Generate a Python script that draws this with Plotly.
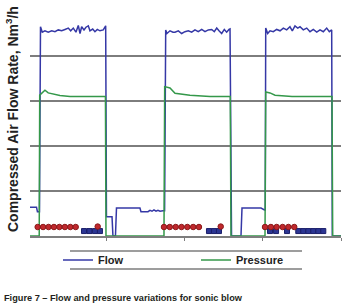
import plotly.graph_objects as go

# ---- data (time axis in arbitrary units, values in axis units) ----
flow_t = [2.6, 10.9, 12.1, 14.7, 16.0, 18.3, 21.7, 25.9, 30.3, 34.5, 38.7, 43.1, 47.3, 51.5, 54.6,
          57.9, 61.3, 64.3, 66.5, 68.6, 71.6, 74.1, 77.1, 79.2, 82.7, 85.6, 88.6, 92.0, 96.2, 99.3,
          100.3, 107.4, 108.6, 111.8, 113.1, 143.1, 144.4, 153.4, 155.9, 158.5, 161.0, 163.6, 166.1,
          168.7, 172.5, 174.6,
          176.0, 177.6, 181.5, 185.3, 187.9, 192.1, 196.4, 200.6, 204.9, 209.2, 213.4, 217.6, 222.0,
          226.2, 230.4, 234.8, 238.1, 241.2, 244.1, 247.5, 250.9, 253.9, 256.9, 258.2,
          260.1, 272.2, 273.5, 297.8, 302.2, 303.2,
          303.8, 306.3, 309.3, 313.5, 317.8, 322.1, 326.3, 330.6, 334.8, 337.8, 341.2, 344.7, 347.6,
          351.8, 356.2, 360.4, 364.6, 369.0, 373.2, 377.4, 381.7, 385.1, 388.1,
          388.9, 400.0]
flow_v = [0.64, 0.64, 0.54, 0.54, 4.65, 4.53, 4.56, 4.53, 4.56, 4.54, 4.58, 4.56, 4.59, 4.62, 4.56,
          4.62, 4.53, 4.68, 4.50, 4.65, 4.58, 4.64, 4.67, 4.56, 4.60, 4.54, 4.59, 4.56, 4.58, 4.67,
          0.43, 0.43, 0.0, 0.0, 0.62, 0.62, 0.54, 0.54, 0.57, 0.55, 0.58, 0.55, 0.57,
          0.55, 0.56, 0.56,
          4.58, 4.50, 4.56, 4.53, 4.53, 4.56, 4.50, 4.54, 4.56, 4.53, 4.58, 4.54, 4.59,
          4.54, 4.58, 4.59, 4.54, 4.62, 4.56, 4.50, 4.59, 4.53, 4.59, 4.60,
          0.0, 0.0, 0.62, 0.62, 0.58, 0.58,
          4.62, 4.50, 4.56, 4.54, 4.59, 4.56, 4.62, 4.58, 4.65, 4.56, 4.67, 4.62, 4.65,
          4.58, 4.62, 4.54, 4.59, 4.53, 4.58, 4.54, 4.62, 4.54, 4.58,
          0.0, 0.0]

pres_t = [2.6, 14.4, 15.0, 21.7, 25.9, 32.3, 40.9, 53.7, 70.3, 99.0, 99.7,
          173.8, 174.7, 181.5, 187.9, 207.0, 232.6, 258.5, 259.4,
          302.9, 303.8, 309.3, 315.7, 337.4, 388.5, 389.4, 400.0]
pres_v = [0.0, 0.0, 3.13, 3.24, 3.18, 3.15, 3.12, 3.10, 3.10, 3.10, 0.0,
          0.0, 3.32, 3.29, 3.17, 3.13, 3.10, 3.10, 0.0,
          0.0, 3.20, 3.18, 3.13, 3.10, 3.10, 0.0, 0.0]

red_t = [12.4, 19.3, 26.3, 33.2, 40.1, 47.2, 54.1, 61.0, 89.1,
         173.8, 181.2, 188.8, 196.2, 203.6, 211.1, 218.5, 246.3,
         302.9, 310.4, 317.8, 325.4, 332.8, 340.3]
red_v = [0.20] * 8 + [0.21] + [0.20] * 7 + [0.21] + [0.20] * 6

blue_t = [71.6, 78.6, 85.6, 92.0,
          231.3, 237.7, 244.1,
          309.3, 317.0, 331.0, 345.4, 351.8, 358.2, 364.6, 371.0, 377.4]
blue_v = [0.11] * len(blue_t)

x_ticks = [100, 200, 300, 400]

FLOW_C = "#3538A6"
PRES_C = "#34984A"
GRID_C = "#7d7d7d"

fig = go.Figure()
fig.add_trace(go.Scatter(x=flow_t, y=flow_v, mode="lines", name="Flow",
                         line=dict(color=FLOW_C, width=1.5)))
fig.add_trace(go.Scatter(x=pres_t, y=pres_v, mode="lines", name="Pressure",
                         line=dict(color=PRES_C, width=1.5)))
fig.add_trace(go.Scatter(x=blue_t, y=blue_v, mode="markers", showlegend=False,
                         marker=dict(symbol="square", size=5, color="#2B3592",
                                     line=dict(color="#1B1F6B", width=1))))
fig.add_trace(go.Scatter(x=red_t, y=red_v, mode="markers", showlegend=False,
                         marker=dict(symbol="circle", size=5.5, color="#C0282D",
                                     line=dict(color="#8B1A1A", width=1))))

L, R, T, B = 30, 9, 11, 69
W, H = 350, 305
pw, ph = W - L - R, H - T - B


def px_x(px):
    return (px - L) / pw


def px_y(py):
    return (H - B - py) / ph


fig.update_layout(
    width=W, height=H,
    margin=dict(l=L, r=R, t=T, b=B, pad=0),
    paper_bgcolor="white", plot_bgcolor="white",
    xaxis=dict(range=[2.6, 400], showgrid=False, zeroline=False, showline=True,
               linecolor=GRID_C, linewidth=1.5, ticks="outside", ticklen=3,
               tickcolor=GRID_C, tickwidth=1, tickvals=x_ticks, showticklabels=False),
    yaxis=dict(range=[0, 5], dtick=1, showgrid=True, gridcolor=GRID_C, gridwidth=1.5,
               zeroline=False, showline=False, showticklabels=False, ticks=""),
    showlegend=True,
    legend=dict(orientation="h", x=px_x(58), xanchor="left", y=px_y(260), yanchor="middle",
                entrywidth=93, entrywidthmode="pixels", bgcolor="rgba(0,0,0,0)",
                font=dict(family="Liberation Sans, Arial, sans-serif", size=11,
                          weight="bold", color="#222222")),
    font=dict(family="Liberation Sans, Arial, sans-serif"),
)

# legend frame lines (top and bottom only)
for py in (251, 269):
    fig.add_shape(type="line", xref="paper", yref="paper",
                  x0=px_x(70), x1=px_x(302), y0=px_y(py), y1=px_y(py),
                  line=dict(color=GRID_C, width=1.5))

fig.add_annotation(text="Compressed Air Flow Rate, Nm<sup>3</sup>/h", textangle=-90,
                   xref="paper", yref="paper", x=px_x(12), y=px_y(119),
                   xanchor="center", yanchor="middle", showarrow=False,
                   font=dict(family="Liberation Sans, Arial, sans-serif", size=14,
                             weight="bold", color="#222222"))

fig.add_annotation(text="Figure 7 \u2013 Flow and pressure variations for sonic blow",
                   xref="paper", yref="paper", x=px_x(2), y=px_y(297.5),
                   xanchor="left", yanchor="middle", showarrow=False,
                   font=dict(family="Liberation Sans, Arial, sans-serif", size=9.2,
                             weight="bold", color="#231f20"))

fig.write_html("out.html", config={"displayModeBar": False},
               post_script="document.body.style.margin='0';document.body.style.overflow='hidden';")
